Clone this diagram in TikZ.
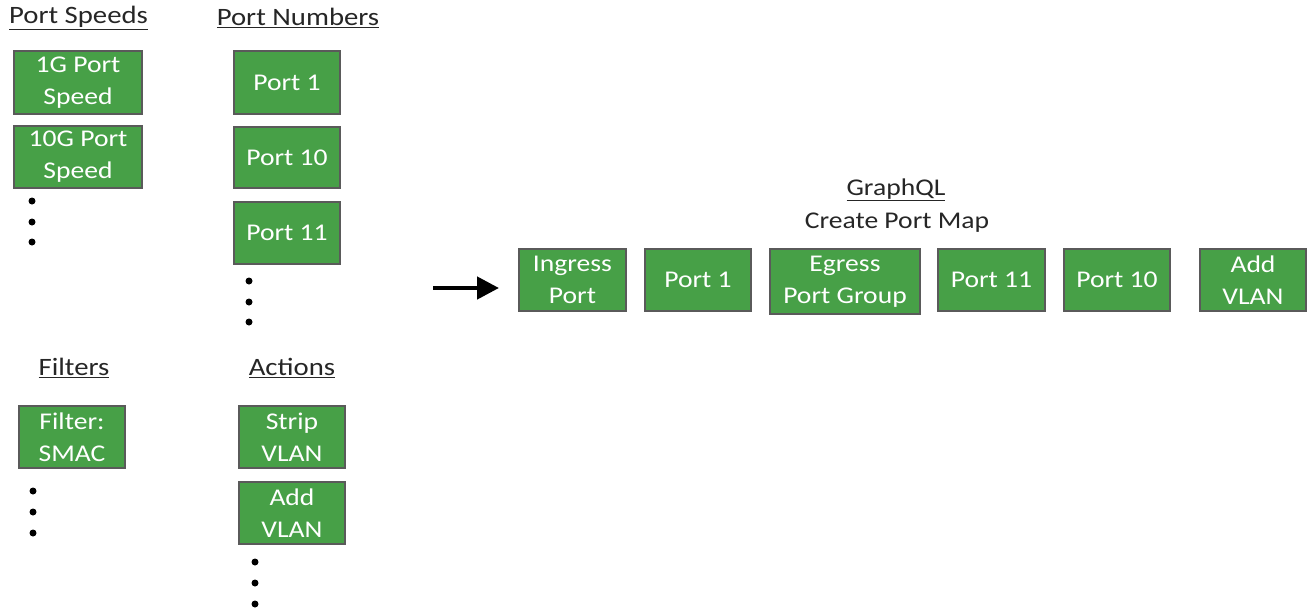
\documentclass[tikz,border=0pt]{standalone}
\usepackage{fontspec}
\setmainfont[FakeStretch=1.15]{Carlito}
\usetikzlibrary{arrows.meta}
\definecolor{boxgreen}{RGB}{71,160,71}
\definecolor{boxedge}{RGB}{90,90,90}
\begin{document}
\begin{tikzpicture}[x=1pt,y=-1pt,
  gbox/.style={draw=boxedge,line width=1.6pt,fill=boxgreen,text=white,
    font=\fontsize{24}{32}\selectfont,align=center,inner sep=0pt},
  ttl/.style={font=\fontsize{25}{28}\selectfont,text=black!85},
  sub/.style={font=\fontsize{24}{28}\selectfont,text=black!85},
  dotc/.style={fill=black,circle,inner sep=0pt,minimum size=7pt}]
\useasboundingbox (0,0) rectangle (1307,611);
% titles
\node[ttl] (tps) at (78.5,18) {\underline{Port Speeds}};
\node[ttl] (tpn) at (298,18) {\underline{Port Numbers}};
\node[ttl] (tf) at (74,368) {\underline{Filters}};
\node[ttl] (ta) at (292,368) {\underline{Actions}};
% port speeds
\node[gbox,minimum width=128pt,minimum height=63pt] (s1) at (78,82.5) {1G Port\\Speed};
\node[gbox,minimum width=128pt,minimum height=62pt] (s10) at (78,157) {10G Port\\Speed};
\node[dotc] (sd1) at (32,201) {};
\node[dotc] (sd2) at (32,222) {};
\node[dotc] (sd3) at (32,242) {};
% port numbers
\node[gbox,minimum width=106pt,minimum height=63pt] (p1) at (287,82.5) {Port 1};
\node[gbox,minimum width=106pt,minimum height=61pt] (p10) at (287,157.5) {Port 10};
\node[gbox,minimum width=106pt,minimum height=62pt] (p11) at (287,233) {Port 11};
\node[dotc] (pd1) at (249,281) {};
\node[dotc] (pd2) at (249,302) {};
\node[dotc] (pd3) at (249,322) {};
% filters
\node[gbox,minimum width=106pt,minimum height=62pt] (f1) at (72,437) {Filter:\\SMAC};
\node[dotc] (fd1) at (33,491) {};
\node[dotc] (fd2) at (33,512) {};
\node[dotc] (fd3) at (33,533) {};
% actions
\node[gbox,minimum width=106pt,minimum height=62pt] (a1) at (292,437) {Strip\\VLAN};
\node[gbox,minimum width=106pt,minimum height=62pt] (a2) at (292,513) {Add\\VLAN};
\node[dotc] (ad1) at (255,562) {};
\node[dotc] (ad2) at (255,583) {};
\node[dotc] (ad3) at (255,604) {};
% graphql
\node[sub] (gq) at (896,190) {\underline{GraphQL}};
\node[sub] (cpm) at (897,223) {Create Port Map};
\coordinate (arS) at (433,288);
\node[gbox,minimum width=107pt,minimum height=62pt] (m1) at (572.5,280) {Ingress\\Port};
\draw[line width=4.5pt,-{Triangle[length=22pt,width=22pt]}] (arS) -- (499,288);
\node[gbox,minimum width=106pt,minimum height=62pt] (m2) at (698,280) {Port 1};
\node[gbox,minimum width=150pt,minimum height=65pt] (m3) at (845,281.5) {Egress\\Port Group};
\node[gbox,minimum width=107pt,minimum height=62pt] (m4) at (991.5,280) {Port 11};
\node[gbox,minimum width=106pt,minimum height=62pt] (m5) at (1117,280) {Port 10};
\node[gbox,minimum width=106pt,minimum height=62pt] (m6) at (1253,280) {Add\\VLAN};
\end{tikzpicture}
\end{document}
